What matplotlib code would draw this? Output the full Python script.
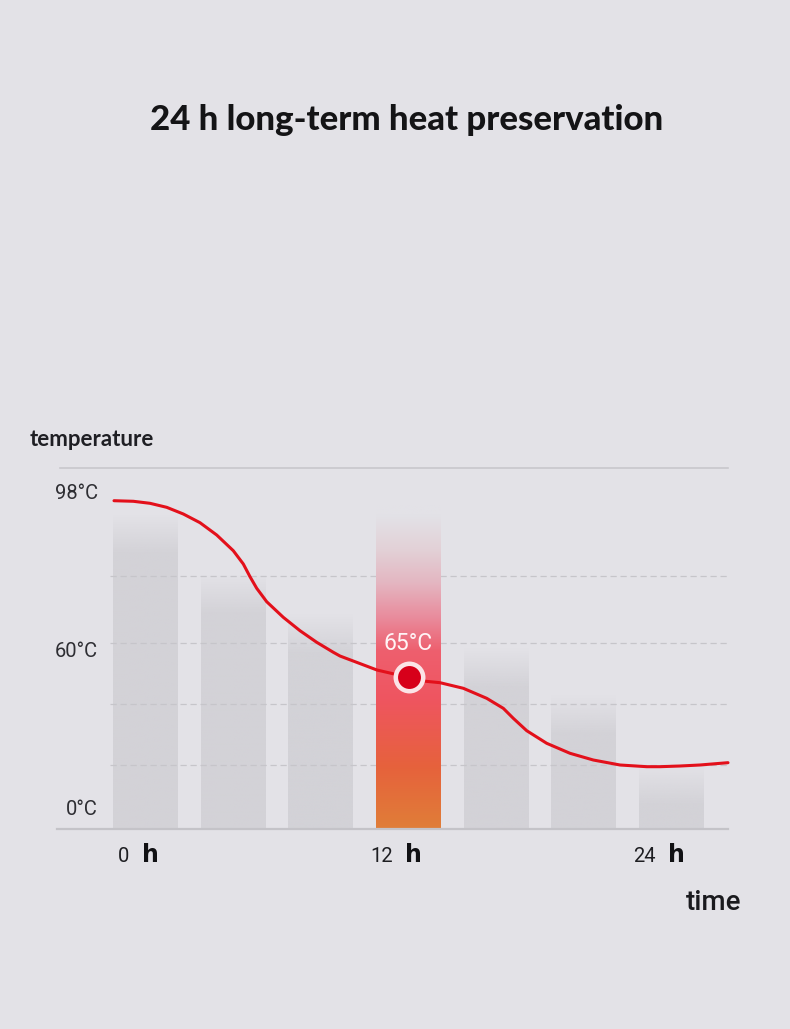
import numpy as np
import matplotlib.pyplot as plt
from matplotlib.colors import to_rgba

# ---- chart data ----
bar_hours = [0, 4, 8, 12, 16, 20, 24]
bar_levels = [87, 70.4, 59.3, 89.7, 50.1, 37.1, 17.5]
highlight_idx = 3

curve_hours = [-1.437, -0.557, 0.205, 0.967, 1.724, 2.486, 3.248, 4.005, 4.462,
               4.767, 5.073, 5.529, 6.286, 7.048, 7.810, 8.568, 8.873, 10.56,
               11.93, 12.52, 13.435, 14.498, 15.566, 16.323, 16.779, 17.391,
               18.303, 19.366, 20.429, 21.647, 22.865, 23.472, 24.384, 25.296,
               26.574]
curve_levels = [90.94, 90.78, 90.22, 89.11, 87.26, 84.85, 81.44, 77.09, 73.41,
                69.89, 66.68, 62.96, 58.64, 54.93, 51.72, 48.95, 47.92, 44.04,
                42.11, 41.08, 40.53, 38.98, 36.20, 33.43, 30.66, 27.23,
                23.74, 20.97, 19.11, 17.73, 17.26, 17.26, 17.45, 17.73,
                18.37]

temp_labels = ['98°C', '60°C', '0°C']
temp_levels = [93, 49.3, 5.5]
grid_levels = [70.1, 51.5, 34.6, 17.7]
time_ticks = [0, 12, 24]
marker_hour = 12
marker_level = 42.1
marker_label = '65°C'

BG = '#e3e2e7'
GRAY = '#d3d2d7'
RED = '#e3101b'
PX_H = 21.92      # pixels per hour
X_ORIGIN = 145.5  # pixel x of hour 0

fig = plt.figure(figsize=(7.9, 10.29), dpi=100, facecolor=BG)
ax = fig.add_axes([57 / 790, 1 - 829 / 1029, 671 / 790, 361 / 1029])
ax.patch.set_alpha(0)


def px2h(px):
    return (px - X_ORIGIN) / PX_H


def fade_bar(ax, x, top, width, pos, colors, fade=None, zorder=1):
    """ Draw a vertical gradient bar with imshow """
    n = 300
    t = np.linspace(0, 1, n)
    rgba = np.zeros((n, 1, 4))
    cols = np.array([to_rgba(c) for c in colors])
    for k in range(4):
        rgba[:, 0, k] = np.interp(t, pos, cols[:, k])
    if fade is not None:
        rgba[:, 0, 3] = np.clip((top - t * top) / fade, 0, 1)
    ax.imshow(rgba, extent=[x - width / 2, x + width / 2, 0, top], origin='lower',
              aspect='auto', interpolation='bilinear', zorder=zorder)


bar_w = 65 / PX_H
for i, (h, lvl) in enumerate(zip(bar_hours, bar_levels)):
    if i == highlight_idx:
        fade_bar(ax, h, lvl, bar_w,
                 [0, 0.19, 0.40, 0.55, 0.65, 0.76, 0.86, 0.97, 1.0],
                 ['#e07e38', '#e6623c', '#ef5560', '#ee5f6e', '#e98a9b',
                  '#e4b6c1', '#e2d0d6', BG, BG], zorder=3)
    else:
        fade_bar(ax, h, lvl, bar_w, [0, 1], [GRAY, GRAY], fade=11, zorder=1)

# dashed guide lines
x_end = px2h(728)
for g in grid_levels:
    ax.plot([px2h(110), x_end], [g, g], color='#c6c5ca', lw=0.9, ls=(0, (5, 3)), zorder=2)

# frame lines
ax.plot([px2h(60), x_end], [100, 100], color='#c8c7cc', lw=1.2, zorder=2, clip_on=False)
ax.plot([px2h(57), x_end], [0, 0], color='#c4c3c8', lw=1.6, zorder=4, clip_on=False)

# temperature curve + marker
ax.plot(curve_hours, curve_levels, color=RED, lw=2.2, zorder=5,
        solid_capstyle='round', solid_joinstyle='round', clip_on=False)
ax.plot(marker_hour, marker_level, 'o', ms=23, mfc='#fbe4e7', mec='none', zorder=6)
ax.plot(marker_hour, marker_level, 'o', ms=16.5, mfc='#d7001a', mec='none', zorder=7)
ax.text(marker_hour, 51.5, marker_label, color='#fff4f6', fontsize=16.5,
        family='Roboto', ha='center', va='center', zorder=7)

# y labels
for lab, lvl in zip(temp_labels, temp_levels):
    ax.text(px2h(98), lvl, lab, fontsize=14.5, family='Roboto',
            color='#2e2e33', ha='right', va='center')

# x labels
for h in time_ticks:
    ax.text(h - 0.72, -9.1, str(h), fontsize=14.5, family='Roboto',
            color='#1e1e22', ha='right', va='baseline', clip_on=False)
    ax.text(h - 0.15, -9.1, 'h', fontsize=17, family='DejaVu Sans', weight='bold',
            color='#111114', ha='left', va='baseline', clip_on=False)

ax.text(px2h(741), -22.4, 'time', fontsize=20, family='Roboto', weight='medium',
        color='#1a1a1e', ha='right', va='baseline', clip_on=False)
ax.text(px2h(30), 106.1, 'temperature', fontsize=16, family='Lato', weight='bold',
        color='#1f1f24', ha='left', va='baseline', clip_on=False)

fig.text(407 / 790, 1 - 120 / 1029, '24 h long-term heat preservation',
         fontsize=25, family='Lato', weight='black', color='#141416',
         ha='center', va='center')

ax.set_xlim(px2h(57), x_end)
ax.set_ylim(0, 100)
ax.axis('off')

fig.savefig('out.png', dpi=100, facecolor=BG)
